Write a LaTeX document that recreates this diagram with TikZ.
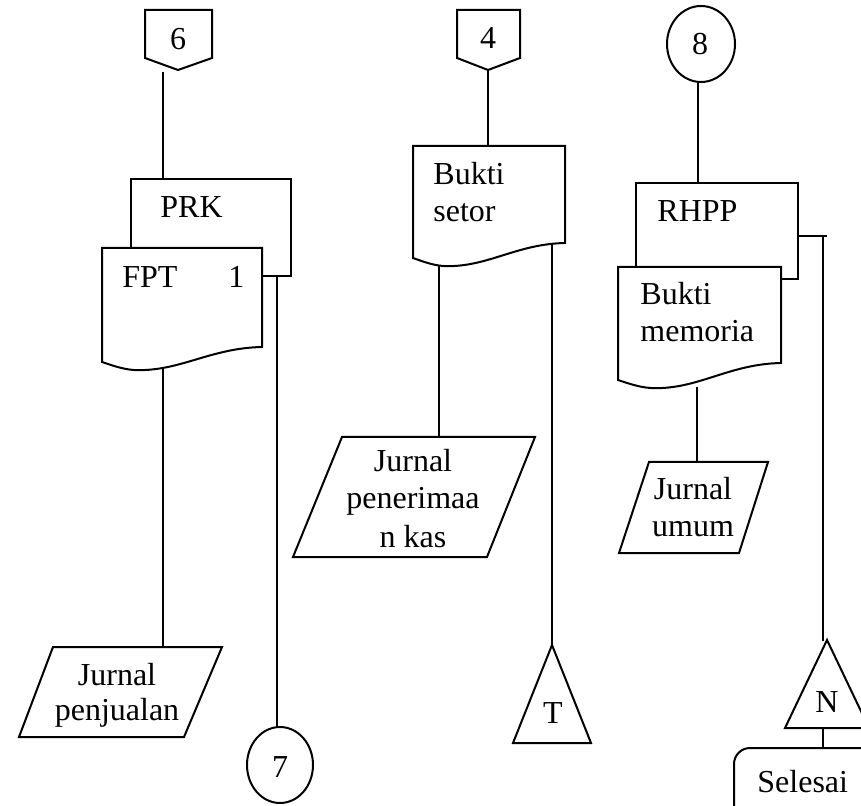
\documentclass[tikz,border=0pt]{standalone}
\usepackage{fontspec}
\setmainfont{Liberation Serif}
\usetikzlibrary{shapes.geometric}
% document symbol: left, top, right, bottom of left edge, bottom of right edge
\newcommand{\docshape}[5]{%
  \draw[shapeline] (#1,#2) -- (#3,#2) -- (#3,#5)
    .. controls ({#1+0.7*(#3-#1)},{#5+1}) and ({#1+0.52*(#3-#1)},{#4+6}) .. ({#1+0.27*(#3-#1)},{#4+8})
    .. controls ({#1+0.17*(#3-#1)},{#4+9}) and ({#1+0.11*(#3-#1)},{#4+6}) .. (#1,#4) -- cycle;}
\begin{document}
\begin{tikzpicture}[x=0.5pt,y=-0.5pt,
  shapeline/.style={draw=black,line width=1pt,fill=white,line join=miter},
  flow/.style={draw=black,line width=1pt},
  lbl/.style={inner sep=0pt,font=\fontsize{16}{18}\selectfont},
  connector/.style={draw=black,line width=1pt,fill=white,ellipse,inner sep=0pt}]
\clip (0,0) rectangle (861,806);
\fill[white] (0,0) rectangle (861,806);

% ---------- column 1 ----------
\draw[shapeline] (145,10) -- (212,10) -- (212,58) -- (178,70) -- (145,58) -- cycle;
\node[lbl,anchor=base] (n6) at (178,50) {6};
\coordinate (off6) at (163,72);

\draw[shapeline] (131,179) rectangle (291,276);
\coordinate (prktop) at (163,179);
\coordinate (prkout) at (277,276);
\node[lbl,anchor=base west] (prk) at (160,218) {PRK};

\docshape{102}{248}{262}{362}{347}
\node[lbl,anchor=base west] (fpt) at (122,288) {FPT};
\node[lbl,anchor=base west] (fptno) at (228,288) {1};
\coordinate (fptout) at (163,369);

\draw[shapeline] (53,647) -- (222,647) -- (184,737) -- (19,737) -- cycle;
\coordinate (jptop) at (163,647);
\node[lbl,anchor=base] (jp1) at (117,685) {Jurnal};
\node[lbl,anchor=base] (jp2) at (117,720) {penjualan};

\node[connector,minimum width=33pt,minimum height=38pt] (c7) at (280,765) {};
\node[lbl,anchor=base] (c7t) at (280,777) {7};
\coordinate (c7top) at (277,728);

\draw[flow] (off6) -- (prktop);
\draw[flow] (fptout) -- (jptop);
\draw[flow] (prkout) -- (c7top);

% ---------- column 2 ----------
\draw[shapeline] (457,10) -- (520,10) -- (520,58) -- (488,70) -- (457,58) -- cycle;
\node[lbl,anchor=base] (n4) at (488,49) {4};
\coordinate (off4) at (488,70);

\docshape{413}{146}{565}{258}{243}
\coordinate (bstop) at (488,146);
\node[lbl,anchor=base west] (bs1) at (433,185) {Bukti};
\node[lbl,anchor=base west] (bs2) at (433,222) {setor};
\coordinate (bsout) at (439,266);
\coordinate (bsright) at (552,244);

\draw[shapeline] (342,437) -- (535,437) -- (487,557) -- (293,557) -- cycle;
\coordinate (jpktop) at (439,437);
\node[lbl,anchor=base] (jpk1) at (413,472) {Jurnal};
\node[lbl,anchor=base] (jpk2) at (413,509) {penerimaa};
\node[lbl,anchor=base] (jpk3) at (413,547) {n kas};

\draw[shapeline] (552,645) -- (591,743) -- (513,743) -- cycle;
\coordinate (tapex) at (552,645);
\node[lbl,anchor=base] (tt) at (553,723) {T};

\draw[flow] (off4) -- (bstop);
\draw[flow] (bsout) -- (jpktop);
\draw[flow] (bsright) -- (tapex);

% ---------- column 3 ----------
\node[connector,minimum width=34pt,minimum height=38pt] (c8) at (701,44) {};
\node[lbl,anchor=base] (c8t) at (700,55) {8};
\coordinate (c8out) at (698,82);

\draw[shapeline] (636,183) rectangle (798,279);
\coordinate (rhpptop) at (698,183);
\coordinate (rhppout) at (798,236);
\coordinate (rhppcorner) at (827,236);
\node[lbl,anchor=base west] (rhpp) at (657,222) {RHPP};

\docshape{618}{267}{781}{380}{363}
\node[lbl,anchor=base west] (bm1) at (640,305) {Bukti};
\node[lbl,anchor=base west] (bm2) at (640,342) {memoria};
\coordinate (bmout) at (697,387);

\draw[shapeline] (649,462) -- (768,462) -- (739,553) -- (619,553) -- cycle;
\coordinate (jutop) at (697,462);
\node[lbl,anchor=base] (ju1) at (693,499) {Jurnal};
\node[lbl,anchor=base] (ju2) at (693,536) {umum};

\draw[shapeline] (827,640) -- (869,728) -- (785,728) -- cycle;
\coordinate (napex) at (823,641);
\coordinate (nbase) at (823,728);
\node[lbl,anchor=base] (nn) at (827,712) {N};

\draw[shapeline,rounded corners=8pt] (734,840) -- (734,748) -- (900,748) -- (900,840) -- cycle;
\coordinate (seltop) at (823,748);
\node[lbl,anchor=base west] (sel) at (757,792) {Selesai};

\draw[flow] (c8out) -- (rhpptop);
\draw[flow] (bmout) -- (jutop);
\draw[flow] (rhppout) -- (rhppcorner);
\draw[flow] (rhppcorner -| napex) -- (napex);
\draw[flow] (nbase) -- (seltop);
\end{tikzpicture}
\end{document}
